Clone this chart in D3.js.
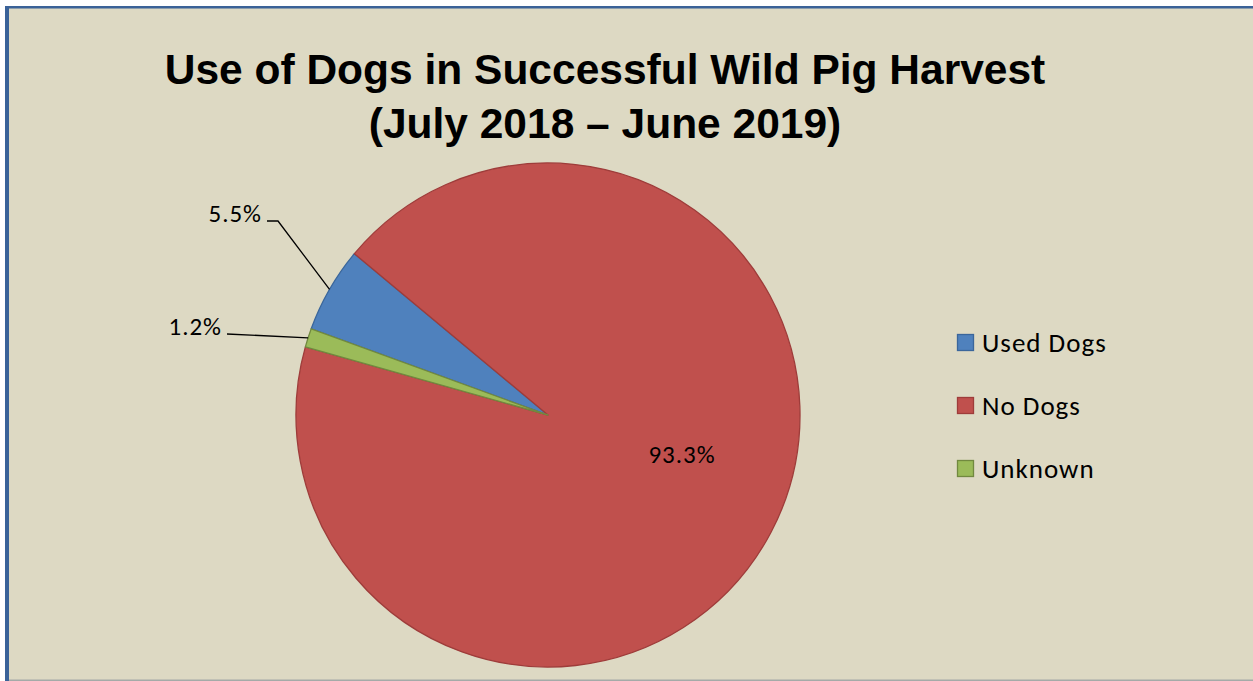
<!DOCTYPE html>
<html>
<head>
<meta charset="utf-8">
<script src="https://cdn.jsdelivr.net/npm/d3@7"></script>
<style>
  body { margin: 0; background: #fff; }
  svg { display: block; }
</style>
</head>
<body>
<div id="chart"></div>
<script>
// data
var categories = ["Used Dogs", "No Dogs", "Unknown"];
var values = [5.5, 93.3, 1.2];
var labels = ["5.5%", "93.3%", "1.2%"];
var colors = ["#4F81BD", "#C0504D", "#9BBB59"];
var strokes = ["#3A669B", "#9E3C3A", "#71893F"];
var titleLines = ["Use of Dogs in Successful Wild Pig Harvest", "(July 2018 \u2013 June 2019)"];

var W = 1253, H = 681;
var cx = 548, cy = 415, R = 252;

var svg = d3.select("#chart")
  .append("svg")
  .attr("width", W)
  .attr("height", H);

// chart area background + border
svg.append("rect")
  .attr("x", 5).attr("y", 6)
  .attr("width", W - 5).attr("height", H - 6)
  .attr("fill", "#DDD9C3");
svg.append("rect")
  .attr("x", 5).attr("y", 6)
  .attr("width", W - 5).attr("height", 2.5)
  .attr("fill", "#3A6298");
svg.append("rect")
  .attr("x", 5).attr("y", 6)
  .attr("width", 4).attr("height", H - 6)
  .attr("fill", "#3A6298");
svg.append("rect")
  .attr("x", 9).attr("y", H - 1.5)
  .attr("width", W - 9).attr("height", 1.5)
  .attr("fill", "#A5AAA8");

// title
svg.append("g")
  .selectAll("text")
  .data(titleLines)
  .enter()
  .append("text")
  .attr("x", 605)
  .attr("y", function (d, i) { return 84 + i * 54; })
  .attr("text-anchor", "middle")
  .style("font-family", "'Liberation Sans', Arial, sans-serif")
  .style("font-weight", "bold")
  .style("font-size", "42.5px")
  .style("fill", "#000")
  .text(function (d) { return d; });

// pie
var start = 290 * Math.PI / 180;
var pie = d3.pie()
  .sort(null)
  .startAngle(start)
  .endAngle(start + 2 * Math.PI)
  .value(function (d) { return d; });

var arcs = pie(values);
var arc = d3.arc().innerRadius(0).outerRadius(R);

var g = svg.append("g")
  .attr("transform", "translate(" + cx + "," + cy + ")");

g.selectAll("path")
  .data(arcs)
  .enter()
  .append("path")
  .attr("d", arc)
  .attr("fill", function (d, i) { return colors[i]; })
  .attr("stroke", function (d, i) { return strokes[i]; })
  .attr("stroke-width", 1.3)
  .attr("stroke-linejoin", "round");

// data labels
var labelFont = "Carlito, Calibri, Lato, sans-serif";
function edgePoint(d) {
  var a = (d.startAngle + d.endAngle) / 2;
  return [R * Math.sin(a), -R * Math.cos(a)];
}

// outside labels for the two small slices (leader points, offsets from centre)
var outside = [
  { i: 0, pts: [[-270, -194], [-281, -194]] },
  { i: 2, pts: [[-321, -81]] }
];
outside.forEach(function (o) {
  var p = edgePoint(arcs[o.i]);
  var end = o.pts[o.pts.length - 1];
  g.append("path")
    .attr("d", d3.line()([p].concat(o.pts)))
    .attr("fill", "none")
    .attr("stroke", "#000")
    .attr("stroke-width", 1.3);
  g.append("text")
    .attr("x", end[0] - 5)
    .attr("y", end[1] + 1)
    .attr("text-anchor", "end")
    .style("font-family", labelFont)
    .style("font-size", "25px")
    .style("letter-spacing", "1px")
    .style("fill", "#000")
    .text(labels[o.i]);
});

// inside label for the big slice
g.append("text")
  .attr("x", 134)
  .attr("y", 48)
  .attr("text-anchor", "middle")
  .style("font-family", labelFont)
  .style("font-size", "25px")
  .style("letter-spacing", "1px")
  .style("fill", "#000")
  .text(labels[1]);

// legend
var legend = svg.append("g")
  .attr("transform", "translate(957,334)");
var item = legend.selectAll("g")
  .data(categories)
  .enter()
  .append("g")
  .attr("transform", function (d, i) { return "translate(0," + i * 63 + ")"; });
item.append("rect")
  .attr("x", 0.5).attr("y", 0.5)
  .attr("width", 16).attr("height", 16)
  .attr("fill", function (d, i) { return colors[i]; })
  .attr("stroke", function (d, i) { return strokes[i]; })
  .attr("stroke-width", 1.3);
item.append("text")
  .attr("x", 25)
  .attr("y", 18)
  .style("font-family", labelFont)
  .style("font-size", "27px")
  .style("letter-spacing", "1px")
  .style("fill", "#000")
  .text(function (d) { return d; });
</script>
</body>
</html>
